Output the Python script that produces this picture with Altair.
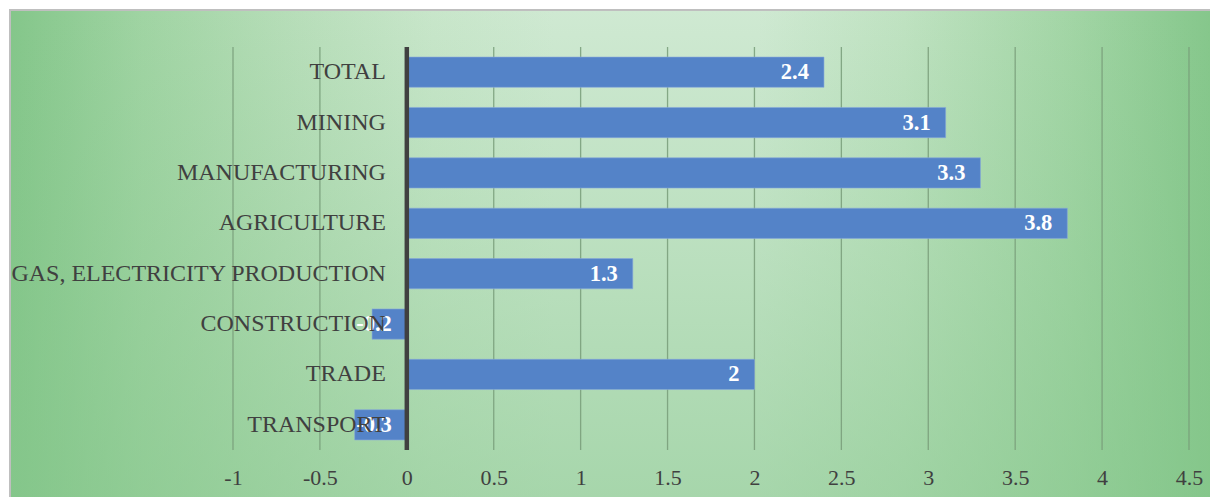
import altair as alt
import pandas as pd

categories = ["TOTAL", "MINING", "MANUFACTURING", "AGRICULTURE",
              "GAS, ELECTRICITY PRODUCTION", "CONSTRUCTION", "TRADE", "TRANSPORT"]
values = [2.4, 3.1, 3.3, 3.8, 1.3, -0.2, 2, -0.3]
value_labels = ["2.4", "3.1", "3.3", "3.8", "1.3", "-0.2", "2", "-0.3"]
x_ticks = [-1, -0.5, 0, 0.5, 1, 1.5, 2, 2.5, 3, 3.5, 4, 4.5]

df = pd.DataFrame({"sector": categories, "value": values, "label": value_labels})
ticks_df = pd.DataFrame({"t": x_ticks})

W, H = 956, 403
SERIF = "Liberation Serif"
xscale = alt.Scale(domain=[-1, 4.5], nice=False, zero=False)
yscale = alt.Scale(domain=categories, paddingInner=0.4, paddingOuter=0.2)
AX = alt.Axis(values=x_ticks, grid=False, ticks=False, domain=False,
              labelExpr="toString(datum.value)",
              labelFont=SERIF, labelFontSize=22, labelColor="#404040",
              labelPadding=17, title=None, labelFlush=False, zindex=2)
Y = alt.Y("sector:N", scale=yscale, sort=categories, axis=None)

one = pd.DataFrame({"a": [0]})
frame = dict(x=alt.value(-223), x2=alt.value(985), y=alt.value(-37), y2=alt.value(456))

bg_h = alt.Chart(one).mark_rect(
    fill=alt.Gradient(
        gradient="linear", x1=0, y1=0, x2=1, y2=0,
        stops=[alt.GradientStop(color="#84c68a", offset=0),
               alt.GradientStop(color="#a0d4a3", offset=0.11),
               alt.GradientStop(color="#b8deba", offset=0.24),
               alt.GradientStop(color="#c8e6ca", offset=0.35),
               alt.GradientStop(color="#cfe9d2", offset=0.45),
               alt.GradientStop(color="#cfe9d2", offset=0.62),
               alt.GradientStop(color="#bfe2c1", offset=0.74),
               alt.GradientStop(color="#a2d5a5", offset=0.88),
               alt.GradientStop(color="#84c68a", offset=1)]),
).encode(**frame)

bg_v = alt.Chart(one).mark_rect(
    fill=alt.Gradient(
        gradient="linear", x1=0, y1=0, x2=0, y2=1,
        stops=[alt.GradientStop(color="rgba(132,198,138,0)", offset=0),
               alt.GradientStop(color="rgba(132,198,138,0.55)", offset=1)]),
    stroke="#bfbfbf", strokeWidth=2
).encode(**frame)

grid = alt.Chart(ticks_df).mark_rule(color="#789c79", strokeWidth=1.3, opacity=0.85).encode(
    x=alt.X("t:Q", scale=xscale, axis=AX)
)

base = alt.Chart(df)

bars = base.mark_bar(color="#5483c8", stroke="#86a8da", strokeWidth=0.6).encode(
    x=alt.X("value:Q", scale=xscale, axis=AX),
    x2=alt.datum(0),
    y=Y,
)

zero = alt.Chart(pd.DataFrame({"z": [0]})).mark_rule(color="#404040", strokeWidth=4.5).encode(
    x=alt.X("z:Q", scale=xscale, axis=AX)
)

val_labels = base.transform_calculate(pos="max(datum.value, 0)").mark_text(
    align="right", baseline="middle", dx=-15, font=SERIF, fontSize=22.5,
    fontWeight="bold", color="white"
).encode(x=alt.X("pos:Q", scale=xscale, axis=AX), y=Y, text="label:N")

cat_labels = base.mark_text(
    align="right", baseline="middle", dx=-21, font=SERIF, fontSize=24, color="#404040"
).encode(x=alt.X(datum=0, type="quantitative", scale=xscale, axis=AX), y=Y, text="sector:N")

chart = alt.layer(bg_h, bg_v, grid, bars, zero, val_labels, cat_labels).properties(
    width=W, height=H,
    autosize=alt.AutoSizeParams(type="none"),
    padding={"left": 233, "top": 47, "right": 21, "bottom": 47},
).configure_view(stroke=None).configure(background="white")

chart.save("out.html", embed_options={"renderer": "svg", "actions": False})
